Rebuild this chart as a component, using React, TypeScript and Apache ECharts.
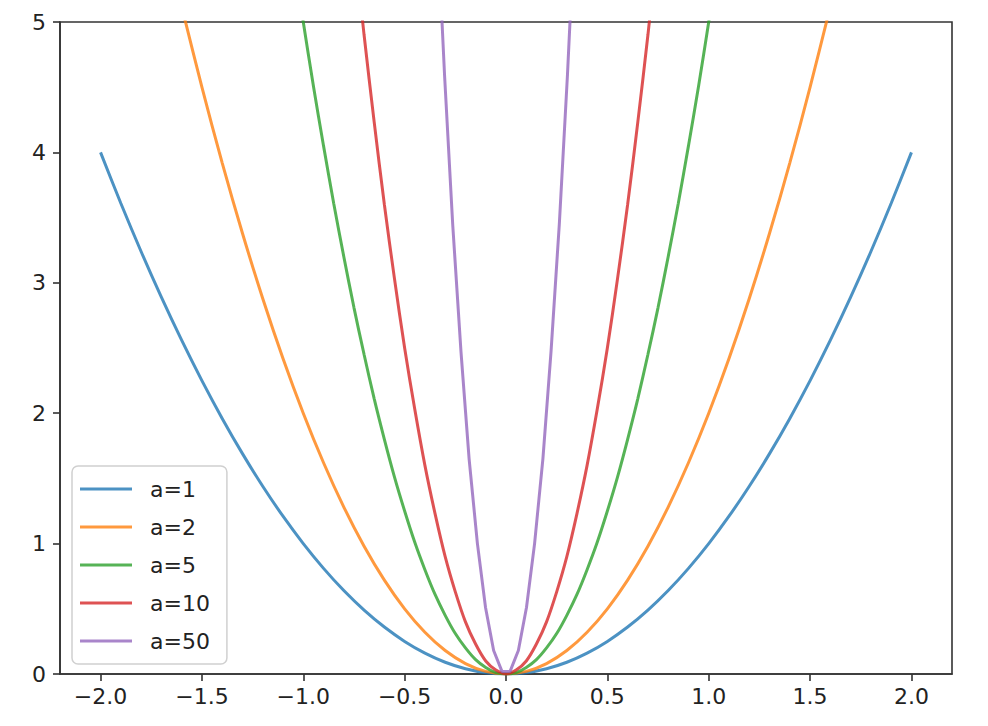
import React, { useEffect, useRef } from "react";
import * as echarts from "echarts";

const seriesNames = ["a=1", "a=2", "a=5", "a=10", "a=50"];
const colors = ["#1f77b4", "#ff7f0e", "#2ca02c", "#d62728", "#9467bd"];

const x1 = [-2, -1.9, -1.8, -1.7, -1.6, -1.5, -1.4, -1.3, -1.2, -1.1, -1, -0.9, -0.8, -0.7, -0.6, -0.5, -0.4, -0.3, -0.2, -0.1, 0,
  0.1, 0.2, 0.3, 0.4, 0.5, 0.6, 0.7, 0.8, 0.9, 1, 1.1, 1.2, 1.3, 1.4, 1.5, 1.6, 1.7, 1.8, 1.9, 2];
const y1 = [4, 3.61, 3.24, 2.89, 2.56, 2.25, 1.96, 1.69, 1.44, 1.21, 1, 0.81, 0.64, 0.49, 0.36, 0.25, 0.16, 0.09, 0.04, 0.01, 0,
  0.01, 0.04, 0.09, 0.16, 0.25, 0.36, 0.49, 0.64, 0.81, 1, 1.21, 1.44, 1.69, 1.96, 2.25, 2.56, 2.89, 3.24, 3.61, 4];

const x2 = [-1.6, -1.5, -1.4, -1.3, -1.2, -1.1, -1, -0.9, -0.8, -0.7, -0.6, -0.5, -0.4, -0.3, -0.2, -0.1, 0,
  0.1, 0.2, 0.3, 0.4, 0.5, 0.6, 0.7, 0.8, 0.9, 1, 1.1, 1.2, 1.3, 1.4, 1.5, 1.6];
const y2 = [5.12, 4.5, 3.92, 3.38, 2.88, 2.42, 2, 1.62, 1.28, 0.98, 0.72, 0.5, 0.32, 0.18, 0.08, 0.02, 0,
  0.02, 0.08, 0.18, 0.32, 0.5, 0.72, 0.98, 1.28, 1.62, 2, 2.42, 2.88, 3.38, 3.92, 4.5, 5.12];

const x5 = [-1.05, -1, -0.95, -0.9, -0.85, -0.8, -0.75, -0.7, -0.65, -0.6, -0.55, -0.5, -0.45, -0.4, -0.35, -0.3, -0.25, -0.2, -0.15, -0.1, -0.05, 0,
  0.05, 0.1, 0.15, 0.2, 0.25, 0.3, 0.35, 0.4, 0.45, 0.5, 0.55, 0.6, 0.65, 0.7, 0.75, 0.8, 0.85, 0.9, 0.95, 1, 1.05];
const y5 = [5.51, 5, 4.51, 4.05, 3.61, 3.2, 2.81, 2.45, 2.11, 1.8, 1.51, 1.25, 1.01, 0.8, 0.61, 0.45, 0.31, 0.2, 0.11, 0.05, 0.01, 0,
  0.01, 0.05, 0.11, 0.2, 0.31, 0.45, 0.61, 0.8, 1.01, 1.25, 1.51, 1.8, 2.11, 2.45, 2.81, 3.2, 3.61, 4.05, 4.51, 5, 5.51];

const x10 = [-0.75, -0.7, -0.65, -0.6, -0.55, -0.5, -0.45, -0.4, -0.35, -0.3, -0.25, -0.2, -0.15, -0.1, -0.05, 0,
  0.05, 0.1, 0.15, 0.2, 0.25, 0.3, 0.35, 0.4, 0.45, 0.5, 0.55, 0.6, 0.65, 0.7, 0.75];
const y10 = [5.63, 4.9, 4.23, 3.6, 3.03, 2.5, 2.03, 1.6, 1.23, 0.9, 0.63, 0.4, 0.23, 0.1, 0.03, 0,
  0.03, 0.1, 0.23, 0.4, 0.63, 0.9, 1.23, 1.6, 2.03, 2.5, 3.03, 3.6, 4.23, 4.9, 5.63];

const x50 = [-0.343, -0.303, -0.263, -0.222, -0.182, -0.141, -0.101, -0.061, -0.02, 0.02, 0.061, 0.101, 0.141, 0.182, 0.222, 0.263, 0.303, 0.343];
const y50 = [5.89, 4.59, 3.45, 2.47, 1.65, 1.0, 0.51, 0.18, 0.02, 0.02, 0.18, 0.51, 1.0, 1.65, 2.47, 3.45, 4.59, 5.89];

const xTicks = [-2, -1.5, -1, -0.5, 0, 0.5, 1, 1.5, 2];

const allX = [x1, x2, x5, x10, x50];
const allY = [y1, y2, y5, y10, y50];

const FONT = "DejaVu Sans";
const AXIS_COLOR = "#333";
const TEXT_COLOR = "#222";

export default function App() {
  const ref = useRef<HTMLDivElement>(null);
  useEffect(() => {
    if (!ref.current) return;
    const chart = echarts.init(ref.current, null, { renderer: "svg" });
    const series = seriesNames.map((name, i) => ({
      name,
      type: "line",
      data: allX[i].map((x, j) => [x, allY[i][j]]),
      showSymbol: false,
      symbol: "none",
      smooth: i === 4 ? false : 0.3,
      clip: true,
      lineStyle: { color: colors[i], width: 3, opacity: 0.8 },
      itemStyle: { color: colors[i], opacity: 0.8 },
    }));
    chart.setOption({
      animation: false,
      backgroundColor: "#fff",
      textStyle: { fontFamily: FONT },
      grid: {
        left: 60,
        right: 36,
        top: 22,
        bottom: 52,
        show: true,
        borderColor: AXIS_COLOR,
        borderWidth: 1.6,
        backgroundColor: "transparent",
      },
      legend: {
        orient: "vertical",
        left: 72,
        top: 466,
        data: seriesNames,
        icon: "rect",
        itemWidth: 52,
        itemHeight: 3,
        itemGap: 16,
        padding: [12, 17, 12, 8],
        backgroundColor: "rgba(255,255,255,0.8)",
        borderColor: "#d0d0d0",
        borderWidth: 1.5,
        borderRadius: 6,
        textStyle: {
          fontFamily: FONT,
          fontSize: 22,
          color: TEXT_COLOR,
          padding: [0, 0, 0, 13],
        },
      },
      xAxis: {
        type: "value",
        min: -2.2,
        max: 2.2,
        splitLine: { show: false },
        axisLine: { show: true, onZero: false, lineStyle: { color: AXIS_COLOR, width: 1.6 } },
        axisTick: {
          show: true,
          length: 7,
          customValues: xTicks,
          lineStyle: { color: AXIS_COLOR, width: 1.6 },
        },
        axisLabel: {
          customValues: xTicks,
          formatter: (v: number) => (v < 0 ? "\u2212" + Math.abs(v).toFixed(1) : v.toFixed(1)),
          fontFamily: FONT,
          fontSize: 22,
          color: TEXT_COLOR,
          margin: 11,
        },
      },
      yAxis: {
        type: "value",
        min: 0,
        max: 5,
        interval: 1,
        splitLine: { show: false },
        axisLine: { show: true, onZero: false, lineStyle: { color: AXIS_COLOR, width: 1.6 } },
        axisTick: { show: true, length: 7, lineStyle: { color: AXIS_COLOR, width: 1.6 } },
        axisLabel: {
          fontFamily: FONT,
          fontSize: 22,
          color: TEXT_COLOR,
          margin: 14,
        },
      },
      series,
    });
    return () => chart.dispose();
  }, []);
  return (
    <div
      ref={ref}
      style={{ position: "fixed", left: 0, top: 0, width: 988, height: 726, background: "#fff" }}
    />
  );
}
